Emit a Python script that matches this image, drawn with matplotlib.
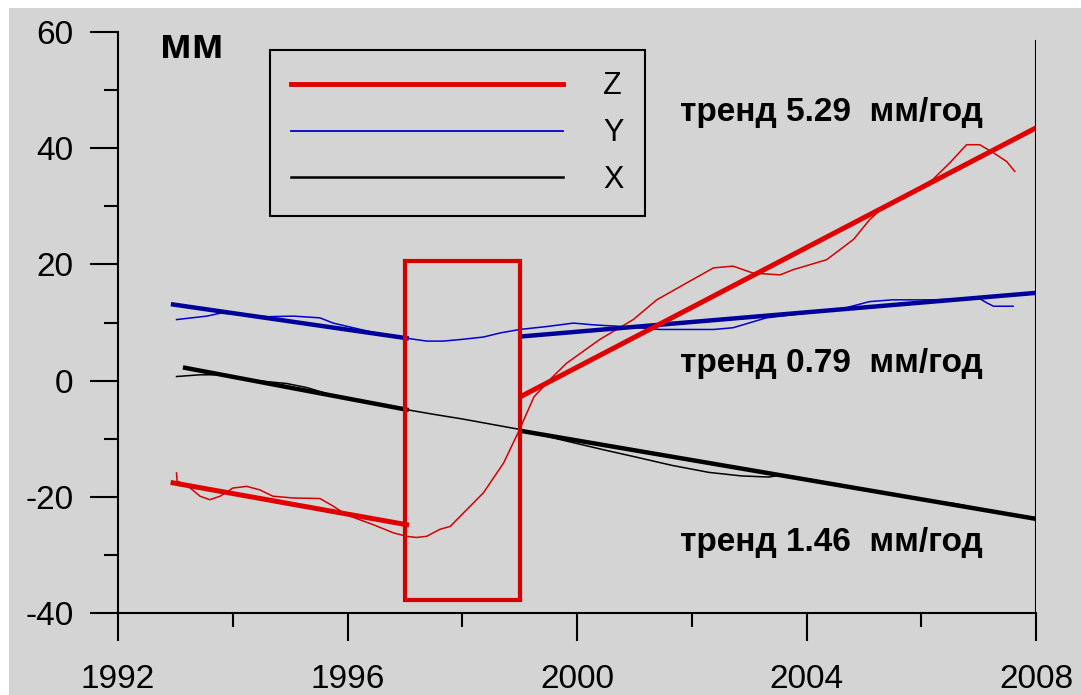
import matplotlib
matplotlib.use("Agg")
import matplotlib.pyplot as plt
from matplotlib.patches import Rectangle
from matplotlib.lines import Line2D
from matplotlib.ticker import MultipleLocator

plt.rcParams["font.family"] = ["Liberation Sans", "DejaVu Sans"]
plt.rcParams["axes.unicode_minus"] = False

# Z component: raw series and two trend segments
z_years = [1993.02, 1993.03, 1993.2, 1993.43, 1993.6, 1993.78, 1994.0, 1994.24, 1994.47,
           1994.7, 1995.05, 1995.52, 1995.75, 1995.98, 1996.45, 1996.8, 1997.03, 1997.2,
           1997.38, 1997.61, 1997.79, 1998.0, 1998.37, 1998.72, 1999.0, 1999.25, 1999.53,
           1999.82, 2000.4, 2000.98, 2001.39, 2001.91, 2002.38, 2002.72, 2003.07, 2003.54,
           2003.77, 2004.35, 2004.82, 2005.1, 2005.3, 2005.8, 2006.2, 2006.5, 2006.79,
           2007.02, 2007.26, 2007.49, 2007.63]
z_values = [-15.9, -17.3, -18.0, -19.9, -20.5, -19.9, -18.5, -18.2, -18.8,
            -19.9, -20.2, -20.3, -21.6, -23.1, -24.8, -26.2, -26.8, -27.0,
            -26.8, -25.6, -25.1, -23.0, -19.3, -14.2, -8.4, -2.8, 0.2,
            3.0, 7.1, 10.5, 13.9, 16.8, 19.4, 19.7, 18.5, 18.2,
            19.1, 20.8, 24.3, 27.7, 29.5, 32.3, 34.6, 37.5, 40.6,
            40.6, 39.2, 37.7, 36.0]
z_trend1_years = [1992.96, 1997.03]
z_trend1 = [-17.6, -24.8]
z_trend2_years = [1999.03, 2008.0]
z_trend2 = [-2.7, 43.5]

# Y component
y_years = [1993.02, 1993.55, 1993.78, 1994.2, 1994.6, 1995.06, 1995.52, 1995.75, 1996.4,
           1997.03, 1997.38, 1997.67, 1998.0, 1998.37, 1998.66, 1999.0, 1999.47, 1999.94,
           2000.28, 2000.8, 2001.45, 2002.38, 2002.72, 2003.3, 2004.0, 2004.6, 2005.1,
           2005.5, 2006.2, 2006.8, 2007.0, 2007.14, 2007.26, 2007.6]
y_values = [10.5, 11.1, 11.6, 11.4, 11.0, 11.1, 10.8, 9.9, 8.4,
            7.3, 6.8, 6.8, 7.1, 7.5, 8.2, 8.8, 9.3, 9.9,
            9.6, 9.3, 8.8, 8.8, 9.1, 10.8, 11.6, 12.3, 13.6,
            13.9, 13.9, 14.1, 14.2, 13.4, 12.8, 12.8]
y_trend1_years = [1992.96, 1997.03]
y_trend1 = [13.1, 7.3]
y_trend2_years = [1999.03, 2008.0]
y_trend2 = [7.6, 15.1]

# X component
x_years = [1993.02, 1993.43, 1993.8, 1994.4, 1994.94, 1995.29, 1995.8, 1996.4, 1997.03,
           1997.5, 1998.0, 1998.5, 1999.0, 1999.6, 2000.46, 2001.0, 2001.66, 2002.3,
           2002.86, 2003.34, 2003.6, 2004.0, 2004.6, 2005.2, 2005.86, 2006.6, 2007.3,
           2007.66, 2008.0]
x_values = [0.7, 1.0, 1.0, 0.0, -0.5, -1.2, -2.7, -3.8, -5.0,
            -5.8, -6.6, -7.5, -8.4, -9.9, -11.9, -13.1, -14.6, -15.8,
            -16.4, -16.6, -16.2, -16.9, -17.9, -19.0, -20.3, -21.2, -22.6,
            -23.1, -23.6]
x_trend1_years = [1993.17, 1997.03]
x_trend1 = [2.2, -5.0]
x_trend2_years = [1999.05, 2008.0]
x_trend2 = [-8.7, -23.8]

# highlighted gap between the two trend fits
gap_years = (1997.0, 1999.0)
gap_range = (-37.7, 20.5)

trend_labels = ["тренд 5.29  мм/год", "тренд 0.79  мм/год", "тренд 1.46  мм/год"]
trend_label_pos = [(2001.8, 44.6), (2001.8, 1.5), (2001.8, -29.4)]

BG = "#d4d4d4"
RED = "#e00000"
RED_THIN = "#d40000"
BLUE = "#00009a"
BLUE_THIN = "#0000d0"

fig = plt.figure(figsize=(10.81, 6.95), dpi=100)
fig.patch.set_facecolor("white")
fig.add_artist(Rectangle((9 / 1081, 0), 1, 1 - 8 / 695, transform=fig.transFigure,
                         facecolor=BG, edgecolor="none", zorder=-10))
ax = fig.add_axes([118 / 1081, 82 / 695, 918 / 1081, 581 / 695])
ax.set_facecolor(BG)

# raw series
ax.plot(y_years, y_values, color=BLUE_THIN, lw=1.1)
ax.plot(x_years, x_values, color="black", lw=1.1)
ax.plot(z_years, z_values, color=RED_THIN, lw=1.1)

# trends
ax.plot(y_trend1_years, y_trend1, color=BLUE, lw=3.2)
ax.plot(y_trend2_years, y_trend2, color=BLUE, lw=3.2)
ax.plot(x_trend1_years, x_trend1, color="black", lw=3.2)
ax.plot(x_trend2_years, x_trend2, color="black", lw=3.2)
ax.plot(z_trend1_years, z_trend1, color=RED, lw=3.6)
ax.plot(z_trend2_years, z_trend2, color=RED, lw=3.6)

ax.add_patch(Rectangle((gap_years[0], gap_range[0]), gap_years[1] - gap_years[0],
                       gap_range[1] - gap_range[0], fill=False, edgecolor=RED_THIN,
                       lw=3, zorder=5))

ax.set_xlim(1992, 2008)
ax.set_ylim(-40, 60)
ax.set_xticks([1992, 1996, 2000, 2004, 2008])
ax.set_yticks([-40, -20, 0, 20, 40, 60])
ax.xaxis.set_minor_locator(MultipleLocator(2))
ax.yaxis.set_minor_locator(MultipleLocator(10))
ax.tick_params(which="major", direction="out", length=20, width=1.5, labelsize=24, pad=12)
ax.tick_params(which="minor", direction="out", length=10, width=1.5)
ax.tick_params(axis="x", which="major", pad=17)
for side in ["top", "right"]:
    ax.spines[side].set_visible(False)
for side in ["left", "bottom"]:
    ax.spines[side].set_linewidth(1.5)
ax.axvline(2008, ymin=0, ymax=(58.5 + 40) / 100, color="black", lw=1.5)

ax.text(0.046, 0.955, "мм", transform=ax.transAxes, fontsize=31, fontweight="bold",
        va="baseline", ha="left")
for label, (tx, ty) in zip(trend_labels, trend_label_pos):
    ax.text(tx, ty, label, fontsize=24, fontweight="bold", va="baseline", ha="left")

handles = [Line2D([], [], color=RED, lw=3.5),
           Line2D([], [], color=BLUE_THIN, lw=1.3),
           Line2D([], [], color="black", lw=1.8)]
leg = ax.legend(handles, ["Z", "Y", "X"], loc="upper left", bbox_to_anchor=(0.1656, 0.969),
                borderaxespad=0, fontsize=22, handlelength=8.9, handletextpad=1.3,
                labelspacing=0.55, borderpad=0.7, fancybox=False, framealpha=1,
                facecolor=BG, edgecolor="black")
leg.get_frame().set_linewidth(1.5)

fig.savefig("out.png", dpi=100, facecolor=fig.get_facecolor())
